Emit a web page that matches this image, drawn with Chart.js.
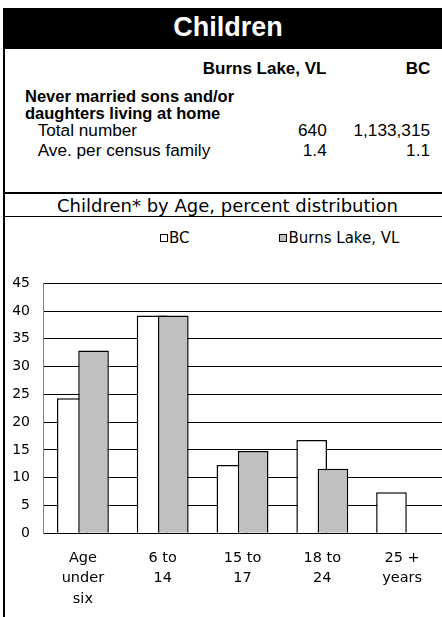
<!DOCTYPE html>
<html>
<head>
<meta charset="utf-8">
<script src="https://cdn.jsdelivr.net/npm/chart.js@4.4.1/dist/chart.umd.min.js"></script>
<style>
  html, body { margin: 0; padding: 0; background: #fff; }
  body { width: 442px; height: 617px; position: relative; overflow: hidden;
         font-family: "Liberation Sans", Arial, sans-serif; color: #000; }
  .abs { position: absolute; white-space: nowrap; line-height: 1; }
  #bar { position: absolute; left: 3px; top: 8px; width: 439px; height: 41px; background: #000; }
  #title { left: 0; width: 456px; text-align: center; top: 13.8px; color: #fff; font-weight: bold; font-size: 27px; }
  #leftline { position: absolute; left: 3px; top: 48px; width: 2px; height: 569px; background: #000; }
  #thick { position: absolute; left: 3px; top: 192px; width: 439px; height: 2px; background: #000; }
  #thin { position: absolute; left: 3px; top: 216px; width: 439px; height: 1px; background: #000; }
  .b17 { font-weight: bold; font-size: 17px; }
  .b16 { font-weight: bold; font-size: 16.5px; }
  .r17 { font-size: 17.2px; }
  #subtitle { left: 0; width: 455px; text-align: center; top: 196.8px; font-family: "DejaVu Sans", sans-serif; font-size: 18px; }
  #legend { position: absolute; left: 159.5px; top: 229px; display: flex; white-space: nowrap;
            font-family: "DejaVu Sans", sans-serif; font-size: 15px; }
  #legend .item { display: flex; align-items: center; flex: none; min-width: 119.5px; height: 17px; }
  #legend .box { width: 6px; height: 6px; border: 1px solid #000; margin-right: 1.5px; }
  #wrap { position: absolute; left: 5px; top: 250px; width: 437px; height: 367px; }
</style>
</head>
<body>
<div id="bar"></div>
<div id="title" class="abs">Children</div>
<div id="leftline"></div>
<div id="table"></div>
<div id="thick"></div>
<div id="subtitle" class="abs">Children* by Age, percent distribution</div>
<div id="thin"></div>
<div id="legend"></div>
<div id="wrap"><canvas id="myChart"></canvas></div>
<script>
  // table at the top
  var areas = ['Burns Lake, VL', 'BC'];
  var rowLabels = ['Total number', 'Ave. per census family'];
  var burnsLakeStats = ['640', '1.4'];
  var bcStats = ['1,133,315', '1.1'];

  // chart data
  var categories = [['Age', 'under', 'six'], ['6 to', '14'], ['15 to', '17'], ['18 to', '24'], ['25 +', 'years']];
  var bcValues = [24.3, 39.2, 12.3, 16.8, 7.4];
  var burnsLakeValues = [32.9, 39.2, 14.8, 11.6, null];
  var yMin = 0, yMax = 45, yStep = 5;

  function put(text, cls, top, left, right) {
    var d = document.createElement('div');
    d.className = 'abs ' + cls;
    d.textContent = text;
    d.style.top = top + 'px';
    if (left != null) d.style.left = left + 'px';
    if (right != null) d.style.right = right + 'px';
    document.getElementById('table').appendChild(d);
  }
  put(areas[0], 'b17', 59.5, null, 115.5);
  put(areas[1], 'b17', 59.5, null, 11.7);
  put('Never married sons and/or', 'b16', 87.7, 25);
  put('daughters living at home', 'b16', 105.3, 25);
  var rowTops = [122.3, 142.3];
  rowLabels.forEach(function (lab, i) {
    put(lab, 'r17', rowTops[i], 37.7);
    put(burnsLakeStats[i], 'r17', rowTops[i], null, 115.3);
    put(bcStats[i], 'r17', rowTops[i], null, 12);
  });

  // draw datasets in index order so the grey bar sits over the white one
  var drawInOrder = {
    id: 'drawInOrder',
    beforeDatasetsDraw: function (chart) {
      var ctx = chart.ctx, a = chart.chartArea;
      ctx.save();
      ctx.beginPath();
      ctx.rect(a.left, a.top - 2, a.right - a.left, a.bottom - a.top + 4);
      ctx.clip();
      chart.getSortedVisibleDatasetMetas().forEach(function (m) { m.controller.draw(); });
      ctx.restore();
      return false;
    }
  };

  var ctx = document.getElementById('myChart').getContext('2d');
  var myChart = new Chart(ctx, {
    type: 'bar',
    data: {
      labels: categories,
      datasets: [{
        label: 'BC',
        data: bcValues,
        backgroundColor: '#ffffff',
        borderColor: '#000000',
        borderWidth: 1.5
      }, {
        label: 'Burns Lake, VL',
        data: burnsLakeValues,
        backgroundColor: '#c0c0c0',
        borderColor: '#000000',
        borderWidth: 1.5
      }]
    },
    options: {
      responsive: true,
      maintainAspectRatio: false,
      animation: false,
      categoryPercentage: 0.533,
      barPercentage: 1.44,
      layout: { padding: { top: 33.3, right: 0, bottom: 0, left: 0 } },
      plugins: {
        legend: { display: false },
        tooltip: { enabled: false }
      },
      scales: {
        x: {
          grid: { display: false, drawTicks: false },
          border: { display: true, color: '#000', width: 1 },
          ticks: {
            color: '#000',
            maxRotation: 0,
            autoSkip: false,
            padding: 14.5,
            font: { family: 'DejaVu Sans', size: 14.5, lineHeight: 1.414 }
          },
          afterFit: function (s) { s.height = 83.7; }
        },
        y: {
          min: yMin,
          max: yMax,
          grid: { color: '#000', lineWidth: 1, drawTicks: false },
          border: { display: true, color: '#808080', width: 1 },
          ticks: {
            stepSize: yStep,
            color: '#000',
            padding: 13,
            font: { family: 'DejaVu Sans', size: 14 }
          },
          afterFit: function (s) { s.width = 38; }
        }
      }
    },
    plugins: [drawInOrder]
  });

  // legend built from the chart's datasets
  var legend = document.getElementById('legend');
  myChart.data.datasets.forEach(function (ds) {
    var item = document.createElement('div');
    item.className = 'item';
    var box = document.createElement('span');
    box.className = 'box';
    box.style.background = ds.backgroundColor;
    var txt = document.createElement('span');
    txt.textContent = ds.label;
    item.appendChild(box);
    item.appendChild(txt);
    legend.appendChild(item);
  });
</script>
</body>
</html>
